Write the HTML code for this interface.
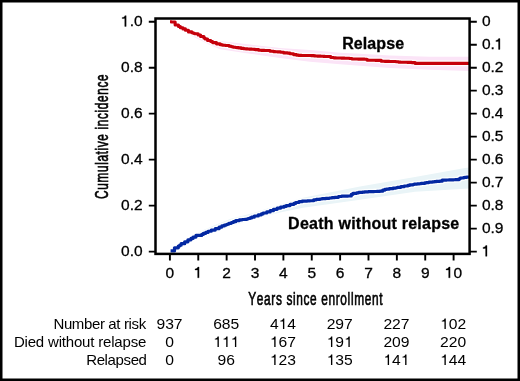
<!DOCTYPE html>
<html><head><meta charset="utf-8"><style>
html,body{margin:0;padding:0;background:#fff;}
svg{display:block;will-change:transform;}
text{font-family:"Liberation Sans", sans-serif;fill:#000;}
path.ax,text.ax{stroke:#000;stroke-width:0.3px;}
text{font-kerning:none;}
</style></head><body>
<svg width="520" height="381" viewBox="0 0 520 381">
<rect x="1.25" y="1.25" width="517.5" height="378.5" fill="#fff" stroke="#000" stroke-width="2.5"/>
<polygon points="170.3,21.5 180.0,26.0 190.0,31.0 200.0,34.5 210.0,38.5 220.0,41.1 250.0,44.5 280.0,47.9 310.0,50.0 340.0,52.7 360.0,53.7 390.0,55.6 430.0,56.8 469.5,56.8 469.5,71.0 430.0,69.8 390.0,68.0 360.0,65.8 340.0,64.2 310.0,61.8 280.0,58.0 250.0,53.7 220.0,49.2 210.0,45.0 200.0,40.0 190.0,35.0 180.0,29.0 170.3,22.5" fill="#fbe4f7"/>
<polygon points="170.6,251.0 185.0,241.0 200.0,231.5 215.0,225.0 230.0,219.0 255.0,212.6 280.0,204.4 303.0,197.7 360.0,186.5 415.0,177.1 465.0,168.0 469.5,167.5 469.5,188.5 465.0,188.8 415.0,191.7 360.0,199.8 303.0,207.8 280.0,212.6 255.0,218.8 230.0,226.5 215.0,232.5 200.0,237.5 185.0,244.5 170.6,251.5" fill="#e9f4f7"/>
<path d="M170.00 21.80H171.58V22.03H175.15V24.97H178.49V26.57H180.40V27.70H182.99V28.92H185.45V30.32H188.47V31.88H191.88V32.81H193.34V33.19H194.62V33.69H198.16V34.99H200.57V36.47H203.91V38.06H205.11V39.07H207.56V40.46H210.78V41.57H212.62V42.58H216.47V43.86H220.19V44.67H221.48V44.87H222.75V45.19H225.47V45.44H229.30V46.24H231.56V46.82H233.37V47.25H235.75V47.55H237.03V47.67H238.85V47.90H241.28V48.41H243.87V48.70H245.72V48.84H247.57V48.98H249.38V49.13H251.87V49.24H253.88V49.33H255.14V49.60H258.68V50.30H261.44V50.39H264.44V50.46H266.16V50.54H270.14V51.25H273.75V51.66H275.29V51.73H277.42V51.83H280.64V52.27H283.83V52.92H287.65V53.12H290.03V53.80H293.56V54.62H296.63V55.13H298.68V55.41H301.53V55.43H305.20V55.46H308.77V55.49H311.38V55.65H314.23V55.88H315.53V56.02H317.41V56.13H320.84V56.26H323.20V56.34H324.89V56.44H327.62V56.57H330.79V57.53H333.88V57.86H336.13V57.93H338.56V58.00H341.18V58.09H344.56V58.18H347.22V58.25H349.52V58.49H352.09V58.94H353.38V59.02H354.70V59.05H357.87V59.11H361.82V59.16H364.68V59.20H366.98V60.11H368.66V60.23H371.27V60.29H375.22V60.35H378.57V60.40H381.28V61.32H384.89V61.38H386.74V61.42H389.38V61.49H393.25V61.55H396.07V61.68H398.55V62.12H400.51V62.18H403.24V62.28H407.12V62.35H408.34V62.42H411.73V62.62H415.23V63.40H418.91V63.40H422.18V63.40H425.65V63.40H428.30V63.40H431.07V63.40H433.47V63.40H434.82V63.40H438.46V63.40H441.25V63.40H443.01V63.40H445.63V63.40H448.18V63.40H450.38V63.40H452.55V63.40H455.26V63.40H458.21V63.40H461.12V63.40H463.60V63.40H464.88V63.40H466.73V63.40H468.42V63.40H469.50" fill="none" stroke="#fff" stroke-opacity="0.85" stroke-width="5.6" stroke-linejoin="round"/>
<path d="M170.60 250.93H174.48V247.81H178.33V246.01H179.69V245.20H181.13V243.67H184.67V241.82H187.93V239.81H191.00V238.38H193.06V237.07H195.96V235.40H198.86V235.40H201.69V234.44H203.33V233.37H205.74V232.42H208.04V231.24H211.26V230.11H215.25V228.66H219.11V227.03H221.83V225.91H224.28V225.08H226.23V224.49H227.53V224.03H228.81V223.36H231.31V222.49H233.40V221.64H235.66V220.62H239.36V219.78H242.03V219.52H244.80V219.42H246.66V219.02H247.93V218.48H250.04V217.89H251.62V217.14H254.25V215.98H258.25V214.80H261.34V213.95H263.05V213.01H266.75V211.89H270.18V210.65H273.43V209.34H277.17V208.18H280.51V207.22H283.92V206.45H286.11V205.58H290.06V204.37H293.95V203.42H295.60V202.49H298.91V201.68H302.12V201.19H304.61V201.05H307.29V200.93H309.86V200.73H313.65V199.81H316.26V199.38H319.78V198.99H321.98V198.70H325.65V198.33H329.37V198.00H331.86V197.71H334.65V197.34H338.42V196.48H341.65V196.10H344.21V196.10H346.03V196.10H348.14V196.01H351.30V194.29H352.97V193.32H356.71V192.87H358.66V192.45H362.41V192.15H364.48V191.85H368.36V191.69H371.54V191.59H374.15V191.49H376.80V191.39H379.82V191.13H382.67V190.16H384.74V189.46H386.52V189.13H389.16V188.64H392.97V188.12H395.92V187.75H397.33V187.32H400.83V186.71H404.06V186.00H407.80V185.45H409.54V184.94H412.82V184.48H414.19V184.08H417.21V183.88H419.18V183.74H421.01V183.43H424.66V182.95H426.16V182.56H428.82V182.05H432.42V181.81H434.30V181.65H436.09V181.41H439.76V181.15H442.14V180.16H445.35V180.07H446.64V180.00H448.85V179.92H450.53V179.82H453.62V179.73H455.05V179.63H458.92V178.78H460.19V177.98H463.44V177.59H464.69V177.32H466.61V177.10H469.50" fill="none" stroke="#fff" stroke-opacity="0.85" stroke-width="5.8" stroke-linejoin="round"/>
<path d="M170.00 21.80H171.58V22.03H175.15V24.97H178.49V26.57H180.40V27.70H182.99V28.92H185.45V30.32H188.47V31.88H191.88V32.81H193.34V33.19H194.62V33.69H198.16V34.99H200.57V36.47H203.91V38.06H205.11V39.07H207.56V40.46H210.78V41.57H212.62V42.58H216.47V43.86H220.19V44.67H221.48V44.87H222.75V45.19H225.47V45.44H229.30V46.24H231.56V46.82H233.37V47.25H235.75V47.55H237.03V47.67H238.85V47.90H241.28V48.41H243.87V48.70H245.72V48.84H247.57V48.98H249.38V49.13H251.87V49.24H253.88V49.33H255.14V49.60H258.68V50.30H261.44V50.39H264.44V50.46H266.16V50.54H270.14V51.25H273.75V51.66H275.29V51.73H277.42V51.83H280.64V52.27H283.83V52.92H287.65V53.12H290.03V53.80H293.56V54.62H296.63V55.13H298.68V55.41H301.53V55.43H305.20V55.46H308.77V55.49H311.38V55.65H314.23V55.88H315.53V56.02H317.41V56.13H320.84V56.26H323.20V56.34H324.89V56.44H327.62V56.57H330.79V57.53H333.88V57.86H336.13V57.93H338.56V58.00H341.18V58.09H344.56V58.18H347.22V58.25H349.52V58.49H352.09V58.94H353.38V59.02H354.70V59.05H357.87V59.11H361.82V59.16H364.68V59.20H366.98V60.11H368.66V60.23H371.27V60.29H375.22V60.35H378.57V60.40H381.28V61.32H384.89V61.38H386.74V61.42H389.38V61.49H393.25V61.55H396.07V61.68H398.55V62.12H400.51V62.18H403.24V62.28H407.12V62.35H408.34V62.42H411.73V62.62H415.23V63.40H418.91V63.40H422.18V63.40H425.65V63.40H428.30V63.40H431.07V63.40H433.47V63.40H434.82V63.40H438.46V63.40H441.25V63.40H443.01V63.40H445.63V63.40H448.18V63.40H450.38V63.40H452.55V63.40H455.26V63.40H458.21V63.40H461.12V63.40H463.60V63.40H464.88V63.40H466.73V63.40H468.42V63.40H469.50" fill="none" stroke="#c6000b" stroke-width="3.1" stroke-linejoin="round"/>
<path d="M170.60 250.93H174.48V247.81H178.33V246.01H179.69V245.20H181.13V243.67H184.67V241.82H187.93V239.81H191.00V238.38H193.06V237.07H195.96V235.40H198.86V235.40H201.69V234.44H203.33V233.37H205.74V232.42H208.04V231.24H211.26V230.11H215.25V228.66H219.11V227.03H221.83V225.91H224.28V225.08H226.23V224.49H227.53V224.03H228.81V223.36H231.31V222.49H233.40V221.64H235.66V220.62H239.36V219.78H242.03V219.52H244.80V219.42H246.66V219.02H247.93V218.48H250.04V217.89H251.62V217.14H254.25V215.98H258.25V214.80H261.34V213.95H263.05V213.01H266.75V211.89H270.18V210.65H273.43V209.34H277.17V208.18H280.51V207.22H283.92V206.45H286.11V205.58H290.06V204.37H293.95V203.42H295.60V202.49H298.91V201.68H302.12V201.19H304.61V201.05H307.29V200.93H309.86V200.73H313.65V199.81H316.26V199.38H319.78V198.99H321.98V198.70H325.65V198.33H329.37V198.00H331.86V197.71H334.65V197.34H338.42V196.48H341.65V196.10H344.21V196.10H346.03V196.10H348.14V196.01H351.30V194.29H352.97V193.32H356.71V192.87H358.66V192.45H362.41V192.15H364.48V191.85H368.36V191.69H371.54V191.59H374.15V191.49H376.80V191.39H379.82V191.13H382.67V190.16H384.74V189.46H386.52V189.13H389.16V188.64H392.97V188.12H395.92V187.75H397.33V187.32H400.83V186.71H404.06V186.00H407.80V185.45H409.54V184.94H412.82V184.48H414.19V184.08H417.21V183.88H419.18V183.74H421.01V183.43H424.66V182.95H426.16V182.56H428.82V182.05H432.42V181.81H434.30V181.65H436.09V181.41H439.76V181.15H442.14V180.16H445.35V180.07H446.64V180.00H448.85V179.92H450.53V179.82H453.62V179.73H455.05V179.63H458.92V178.78H460.19V177.98H463.44V177.59H464.69V177.32H466.61V177.10H469.50" fill="none" stroke="#0328a2" stroke-width="3.2" stroke-linejoin="round"/>
<rect x="155.5" y="18.5" width="314.1" height="235.4" fill="none" stroke="#000" stroke-width="2.5"/>
<path d="M148.8 21.70H155.5 M148.8 67.68H155.5 M148.8 113.66H155.5 M148.8 159.64H155.5 M148.8 205.62H155.5 M148.8 251.60H155.5 M469.6 21.70H476.8 M469.6 44.69H476.8 M469.6 67.68H476.8 M469.6 90.67H476.8 M469.6 113.66H476.8 M469.6 136.65H476.8 M469.6 159.64H476.8 M469.6 182.63H476.8 M469.6 205.62H476.8 M469.6 228.61H476.8 M469.6 251.60H476.8 M169.90 253.9V260.4 M198.27 253.9V260.4 M226.64 253.9V260.4 M255.01 253.9V260.4 M283.38 253.9V260.4 M311.75 253.9V260.4 M340.12 253.9V260.4 M368.49 253.9V260.4 M396.86 253.9V260.4 M425.23 253.9V260.4 M453.60 253.9V260.4" stroke="#000" stroke-width="1.9" fill="none"/>
<path d="M126.17 26.40L124.74 26.40L124.74 18.57L122.14 18.57L122.14 17.49C123.61 17.38 124.54 16.79 124.93 15.63L126.17 15.63Z" class="ax"/>
<text x="129.67" y="26.40" font-size="15.5" class="ax">.0</text>
<text x="121.05" y="72.38" font-size="15.5" class="ax">0.8</text>
<text x="121.05" y="118.36" font-size="15.5" class="ax">0.6</text>
<text x="121.05" y="164.34" font-size="15.5" class="ax">0.4</text>
<text x="121.05" y="210.32" font-size="15.5" class="ax">0.2</text>
<text x="121.05" y="256.30" font-size="15.5" class="ax">0.0</text>
<text x="481.90" y="26.40" font-size="15.5" class="ax">0</text>
<text x="481.90" y="49.39" font-size="15.5" class="ax">0.</text>
<path d="M499.94 49.39L498.52 49.39L498.52 41.56L495.91 41.56L495.91 40.48C497.38 40.37 498.31 39.78 498.70 38.62L499.94 38.62Z" class="ax"/>
<text x="481.90" y="72.38" font-size="15.5" class="ax">0.2</text>
<text x="481.90" y="95.37" font-size="15.5" class="ax">0.3</text>
<text x="481.90" y="118.36" font-size="15.5" class="ax">0.4</text>
<text x="481.90" y="141.35" font-size="15.5" class="ax">0.5</text>
<text x="481.90" y="164.34" font-size="15.5" class="ax">0.6</text>
<text x="481.90" y="187.33" font-size="15.5" class="ax">0.7</text>
<text x="481.90" y="210.32" font-size="15.5" class="ax">0.8</text>
<text x="481.90" y="233.31" font-size="15.5" class="ax">0.9</text>
<path d="M487.01 256.30L485.59 256.30L485.59 248.47L482.98 248.47L482.98 247.39C484.46 247.28 485.39 246.69 485.77 245.53L487.01 245.53Z" class="ax"/>
<text x="165.59" y="277.80" font-size="15.5" class="ax">0</text>
<path d="M199.07 277.80L197.65 277.80L197.65 269.97L195.04 269.97L195.04 268.89C196.52 268.78 197.45 268.19 197.83 267.03L199.07 267.03Z" class="ax"/>
<text x="222.33" y="277.80" font-size="15.5" class="ax">2</text>
<text x="250.70" y="277.80" font-size="15.5" class="ax">3</text>
<text x="279.07" y="277.80" font-size="15.5" class="ax">4</text>
<text x="307.44" y="277.80" font-size="15.5" class="ax">5</text>
<text x="335.81" y="277.80" font-size="15.5" class="ax">6</text>
<text x="364.18" y="277.80" font-size="15.5" class="ax">7</text>
<text x="392.55" y="277.80" font-size="15.5" class="ax">8</text>
<text x="420.92" y="277.80" font-size="15.5" class="ax">9</text>
<path d="M450.09 277.80L448.67 277.80L448.67 269.97L446.06 269.97L446.06 268.89C447.54 268.78 448.47 268.19 448.85 267.03L450.09 267.03Z" class="ax"/>
<text x="453.60" y="277.80" font-size="15.5" class="ax">0</text>
<text transform="translate(248.3 304.7) scale(0.66 1)" x="0" y="0" font-size="18" textLength="203.33" lengthAdjust="spacing" stroke="#000" stroke-width="0.65">Years since enrollment</text>
<text transform="translate(107.6 199.0) rotate(-90) scale(0.66 1)" x="0" y="0" font-size="18" textLength="188.79" lengthAdjust="spacing" stroke="#000" stroke-width="0.65">Cumulative incidence</text>
<text x="342.2" y="48.9" font-size="16" font-weight="bold" textLength="61.9" lengthAdjust="spacing" stroke="#000" stroke-width="0.3">Relapse</text>
<text x="288.1" y="228.5" font-size="16" font-weight="bold" textLength="171.1" lengthAdjust="spacing" stroke="#000" stroke-width="0.3">Death without relapse</text>
<text x="146.2" y="329" text-anchor="end" font-size="15" textLength="92.8" lengthAdjust="spacing">Number at risk</text>
<text transform="translate(156.42 329.00) scale(1.045 1)" font-size="15">937</text>
<text transform="translate(213.16 329.00) scale(1.045 1)" font-size="15">685</text>
<text transform="translate(269.90 329.00) scale(1.045 1)" font-size="15">4</text>
<path d="M284.30 329.00L282.95 329.00L282.95 321.62L280.27 321.62L280.27 320.63C281.76 320.51 282.73 319.85 283.07 318.50L284.30 318.50Z"/>
<text transform="translate(287.34 329.00) scale(1.045 1)" font-size="15">4</text>
<text transform="translate(326.64 329.00) scale(1.045 1)" font-size="15">297</text>
<text transform="translate(383.38 329.00) scale(1.045 1)" font-size="15">227</text>
<path d="M445.80 329.00L444.45 329.00L444.45 321.62L441.77 321.62L441.77 320.63C443.26 320.51 444.23 319.85 444.58 318.50L445.80 318.50Z"/>
<text transform="translate(448.84 329.00) scale(1.045 1)" font-size="15">02</text>
<text x="146.3" y="347" text-anchor="end" font-size="15" textLength="132.4" lengthAdjust="spacing">Died without relapse</text>
<text transform="translate(165.14 347.00) scale(1.045 1)" font-size="15">0</text>
<path d="M218.84 347.00L217.49 347.00L217.49 339.62L214.81 339.62L214.81 338.63C216.30 338.51 217.27 337.85 217.62 336.50L218.84 336.50Z"/>
<path d="M227.56 347.00L226.21 347.00L226.21 339.62L223.53 339.62L223.53 338.63C225.02 338.51 225.99 337.85 226.33 336.50L227.56 336.50Z"/>
<path d="M236.27 347.00L234.93 347.00L234.93 339.62L232.24 339.62L232.24 338.63C233.73 338.51 234.71 337.85 235.05 336.50L236.27 336.50Z"/>
<path d="M275.58 347.00L274.23 347.00L274.23 339.62L271.55 339.62L271.55 338.63C273.04 338.51 274.01 337.85 274.36 336.50L275.58 336.50Z"/>
<text transform="translate(278.62 347.00) scale(1.045 1)" font-size="15">67</text>
<path d="M332.32 347.00L330.97 347.00L330.97 339.62L328.29 339.62L328.29 338.63C329.78 338.51 330.75 337.85 331.10 336.50L332.32 336.50Z"/>
<text transform="translate(335.36 347.00) scale(1.045 1)" font-size="15">9</text>
<path d="M349.75 347.00L348.41 347.00L348.41 339.62L345.72 339.62L345.72 338.63C347.21 338.51 348.19 337.85 348.53 336.50L349.75 336.50Z"/>
<text transform="translate(383.38 347.00) scale(1.045 1)" font-size="15">209</text>
<text transform="translate(440.12 347.00) scale(1.045 1)" font-size="15">220</text>
<text x="146.96" y="365" text-anchor="end" font-size="15" textLength="60.8" lengthAdjust="spacing">Relapsed</text>
<text transform="translate(165.14 365.00) scale(1.045 1)" font-size="15">0</text>
<text transform="translate(217.52 365.00) scale(1.045 1)" font-size="15">96</text>
<path d="M275.58 365.00L274.23 365.00L274.23 357.62L271.55 357.62L271.55 356.63C273.04 356.51 274.01 355.85 274.36 354.50L275.58 354.50Z"/>
<text transform="translate(278.62 365.00) scale(1.045 1)" font-size="15">23</text>
<path d="M332.32 365.00L330.97 365.00L330.97 357.62L328.29 357.62L328.29 356.63C329.78 356.51 330.75 355.85 331.10 354.50L332.32 354.50Z"/>
<text transform="translate(335.36 365.00) scale(1.045 1)" font-size="15">35</text>
<path d="M389.06 365.00L387.71 365.00L387.71 357.62L385.03 357.62L385.03 356.63C386.52 356.51 387.49 355.85 387.84 354.50L389.06 354.50Z"/>
<text transform="translate(392.10 365.00) scale(1.045 1)" font-size="15">4</text>
<path d="M406.49 365.00L405.15 365.00L405.15 357.62L402.46 357.62L402.46 356.63C403.95 356.51 404.93 355.85 405.27 354.50L406.49 354.50Z"/>
<path d="M445.80 365.00L444.45 365.00L444.45 357.62L441.77 357.62L441.77 356.63C443.26 356.51 444.23 355.85 444.58 354.50L445.80 354.50Z"/>
<text transform="translate(448.84 365.00) scale(1.045 1)" font-size="15">44</text>
</svg>
</body></html>
